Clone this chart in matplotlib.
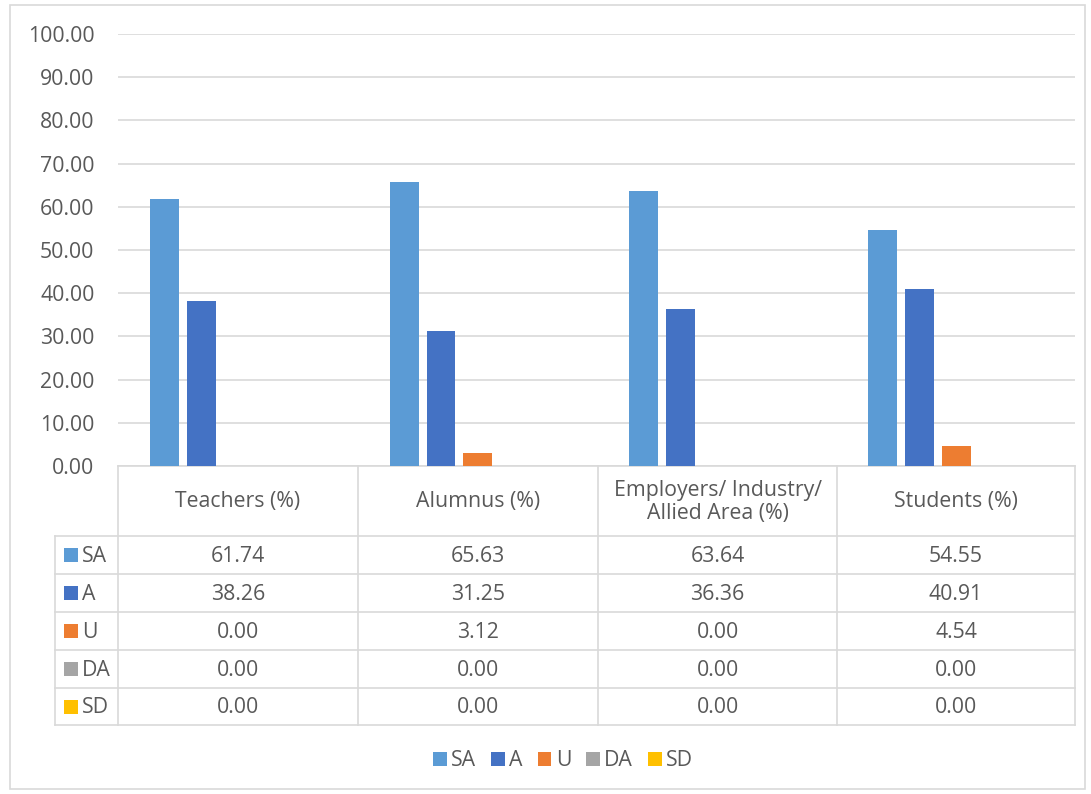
import matplotlib
matplotlib.use("Agg")
import matplotlib.pyplot as plt
from matplotlib.patches import Rectangle, Patch

categories = ["Teachers (%)", "Alumnus (%)", "Employers/ Industry/\nAllied Area (%)", "Students (%)"]
series_names = ["SA", "A", "U", "DA", "SD"]
SA = [61.74, 65.63, 63.64, 54.55]
A = [38.26, 31.25, 36.36, 40.91]
U = [0.00, 3.12, 0.00, 4.54]
DA = [0.00, 0.00, 0.00, 0.00]
SD = [0.00, 0.00, 0.00, 0.00]
yticks = [0, 10, 20, 30, 40, 50, 60, 70, 80, 90, 100]

values = [SA, A, U, DA, SD]
colors = ["#5b9bd5", "#4472c4", "#ed7d31", "#a5a5a5", "#ffc000"]
txt = "#595959"
grid = "#d9d9d9"
FONT = ["Open Sans", "DejaVu Sans"]
plt.rcParams['font.family'] = FONT
FS = 15.3

W, H = 1091, 794
fig = plt.figure(figsize=(W / 100, H / 100), dpi=100)

def px_axes(x0, y0, x1, y1, **kw):
    return fig.add_axes([x0 / W, 1 - y1 / H, (x1 - x0) / W, (y1 - y0) / H], **kw)

# outer border
border = px_axes(0, 0, W, H)
border.set_xlim(0, W); border.set_ylim(H, 0); border.axis("off")
border.add_patch(Rectangle((10, 5), 1075, 784, fill=False, ec="#d9d9d9", lw=1.2))

# bar chart axes
left, right, top, bottom = 118, 1075, 34, 466
ax = px_axes(left, top, right, bottom)
ax.set_xlim(0, 4)
ax.set_ylim(0, 100)
ax.set_yticks(yticks)
ax.set_yticklabels([f"{v:.2f}" for v in yticks], color=txt, fontsize=FS)
ax.tick_params(axis="y", length=0, pad=17)
ax.set_xticks([])
for s in ["top", "right", "left"]:
    ax.spines[s].set_visible(False)
ax.spines["bottom"].set_color(grid)
ax.spines["bottom"].set_linewidth(1.2)
ax.yaxis.grid(True, color=grid, lw=1.2)
ax.set_axisbelow(True)
ax.patch.set_alpha(0)

bw = 29 / 240
step = 37 / 240
for i, (vals, c) in enumerate(zip(values, colors)):
    xs = [k + 0.5 + (i - 2) * step + 1 / 240 for k in range(len(categories))]
    ax.bar(xs, vals, width=bw, color=c, zorder=3)

# data table
tax = px_axes(0, 0, W, H)
tax.set_xlim(0, W); tax.set_ylim(H, 0); tax.axis("off")
col_x = [118, 358, 598, 837, 1075]
row_y = [466, 536, 574, 612, 650, 688, 725]
lc = grid
lw = 1.2
for x in col_x:
    tax.plot([x, x], [row_y[0], row_y[-1]], color=lc, lw=lw)
tax.plot([55, 55], [row_y[1], row_y[-1]], color=lc, lw=lw)
for y in row_y[1:]:
    tax.plot([55, 1075], [y, y], color=lc, lw=lw)
for k, cat in enumerate(categories):
    cx = (col_x[k] + col_x[k + 1]) / 2
    cy = (row_y[0] + row_y[1]) / 2
    tax.text(cx, cy + 1, cat, ha="center", va="center", color=txt, fontsize=FS,
             linespacing=1.1)
for i, name in enumerate(series_names):
    cy = (row_y[i + 1] + row_y[i + 2]) / 2
    tax.add_patch(Rectangle((64, cy - 7), 14, 14, color=colors[i], lw=0))
    tax.text(82, cy + 1, name, ha="left", va="center", color=txt, fontsize=FS)
    for k in range(len(categories)):
        cx = (col_x[k] + col_x[k + 1]) / 2
        tax.text(cx, cy + 1, f"{values[i][k]:.2f}", ha="center", va="center",
                 color=txt, fontsize=FS)

# legend
handles = [Patch(facecolor=c, edgecolor="none") for c in colors]
leg = fig.legend(handles, series_names, loc="center", bbox_to_anchor=(563 / W, 1 - 761 / H),
                 ncol=5, frameon=False, fontsize=FS, handlelength=0.65, handleheight=0.65,
                 handletextpad=0.2, columnspacing=0.7, labelcolor=txt)

fig.savefig("out.png", dpi=100)
